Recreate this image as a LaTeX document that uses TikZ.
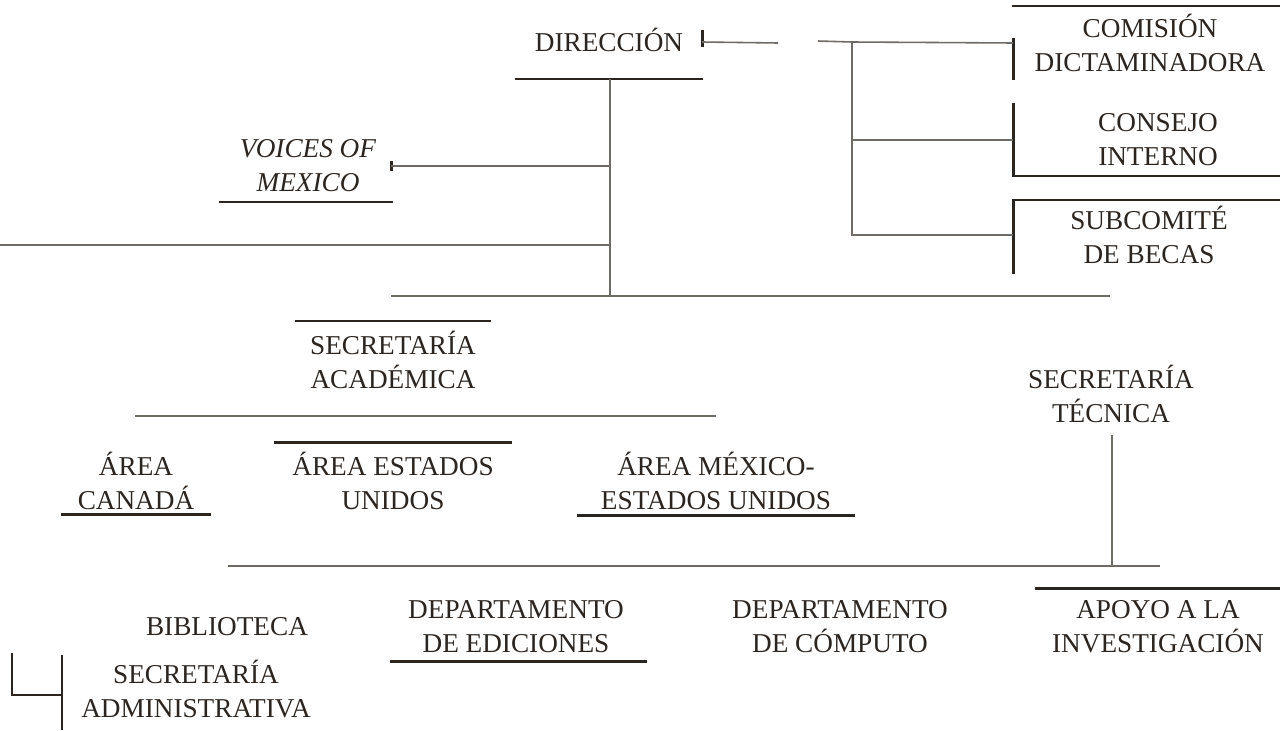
\documentclass[tikz,border=0pt]{standalone}
\usepackage{fontspec}
\setmainfont{Liberation Serif}
\definecolor{ink}{HTML}{2B2521}
\definecolor{wire}{HTML}{6E6A66}

\begin{document}
\begin{tikzpicture}[x=0.02cm,y=-0.02cm,
  lbl/.style={align=center,text=ink,inner sep=0pt,font=\fontsize{15.5}{19.3}\selectfont},
  hdr/.style={draw=ink,line width=1.7pt},
  con/.style={draw=wire,line width=0.9pt}]
\useasboundingbox (0,0) rectangle (1280,730);

\node[lbl] (dir) at (609,40) {DIRECCIÓN};
\node[lbl] (com) at (1150,43) {COMISIÓN\\DICTAMINADORA};
\node[lbl] (cons) at (1158,140) {CONSEJO\\INTERNO};
\node[lbl] (sub) at (1149,235) {SUBCOMITÉ\\DE BECAS};
\node[lbl,font=\fontsize{15.5}{19.3}\selectfont\itshape] (voices) at (308,166) {VOICES OF\\MEXICO};
\node[lbl] (secac) at (393,360) {SECRETARÍA\\ACADÉMICA};
\node[lbl] (sectec) at (1111,394) {SECRETARÍA\\TÉCNICA};
\node[lbl] (acan) at (136,481) {ÁREA\\CANADÁ};
\node[lbl] (aeu) at (393,481) {ÁREA ESTADOS\\UNIDOS};
\node[lbl] (amx) at (716,481) {ÁREA MÉXICO-\\ESTADOS UNIDOS};
\node[lbl] (bib) at (227,627) {BIBLIOTECA};
\node[lbl] (ded) at (516,627) {DEPARTAMENTO\\DE EDICIONES};
\node[lbl] (dcomp) at (840,627) {DEPARTAMENTO\\DE CÓMPUTO};
\node[lbl] (apoyo) at (1158,627) {APOYO A LA\\INVESTIGACIÓN};
\node[lbl] (secad) at (196,689) {SECRETARÍA\\ADMINISTRATIVA};

\draw[hdr] (515,79) -- (703,79);
\draw[hdr] (702,30) -- (702,47);
\draw[hdr] (1012,6) -- (1280,6);
\draw[hdr] (1013,38) -- (1013,80);
\draw[hdr] (1013,103) -- (1013,176) -- (1280,176);
\draw[hdr] (1280,200) -- (1013,200) -- (1013,274);
\draw[hdr] (219,202) -- (393,202);
\draw[hdr] (391,161) -- (391,171);
\draw[hdr] (295,321) -- (491,321);
\draw[hdr] (274,442) -- (512,442);
\draw[hdr] (61,514) -- (211,514);
\draw[hdr] (577,515) -- (855,515);
\draw[hdr] (1035,588) -- (1280,588);
\draw[hdr] (390,661) -- (647,661);
\draw[hdr] (62,655) -- (62,730);

\coordinate (d0) at (610,79);
\coordinate (d1) at (610,166);
\coordinate (d2) at (610,245);
\coordinate (d3) at (610,296);
\coordinate (v0) at (391,166);
\coordinate (l0) at (0,245);
\coordinate (h0) at (391,296);
\coordinate (h1) at (1110,296);
\coordinate (t0) at (702,42);
\coordinate (t1) at (778,43);
\coordinate (t2) at (818,41);
\coordinate (t3) at (852,42);
\coordinate (t4) at (1013,43);
\coordinate (t5) at (852,140);
\coordinate (t6) at (1013,140);
\coordinate (t7) at (852,235);
\coordinate (t8) at (1013,235);
\coordinate (a0) at (135,416);
\coordinate (a1) at (716,416);
\coordinate (s0) at (1112,435);
\coordinate (s1) at (1112,566);
\coordinate (b0) at (228,566);
\coordinate (b1) at (1160,566);
\coordinate (m0) at (12,653);
\coordinate (m1) at (12,695);
\coordinate (m2) at (62,695);

\draw[con] (d0) -- (d3);
\draw[con] (v0) -- (d1);
\draw[con] (l0) -- (d2);
\draw[con] (h0) -- (h1);
\draw[con] (t0) -- (t1);
\draw[con] (t2) -- (t3) -- (t4);
\draw[con] (t3) -- (t7) -- (t8);
\draw[con] (t5) -- (t6);
\draw[con] (a0) -- (a1);
\draw[con] (s0) -- (s1);
\draw[con] (b0) -- (b1);
\draw[con,draw=ink] (m0) -- (m1) -- (m2);
\end{tikzpicture}
\end{document}
